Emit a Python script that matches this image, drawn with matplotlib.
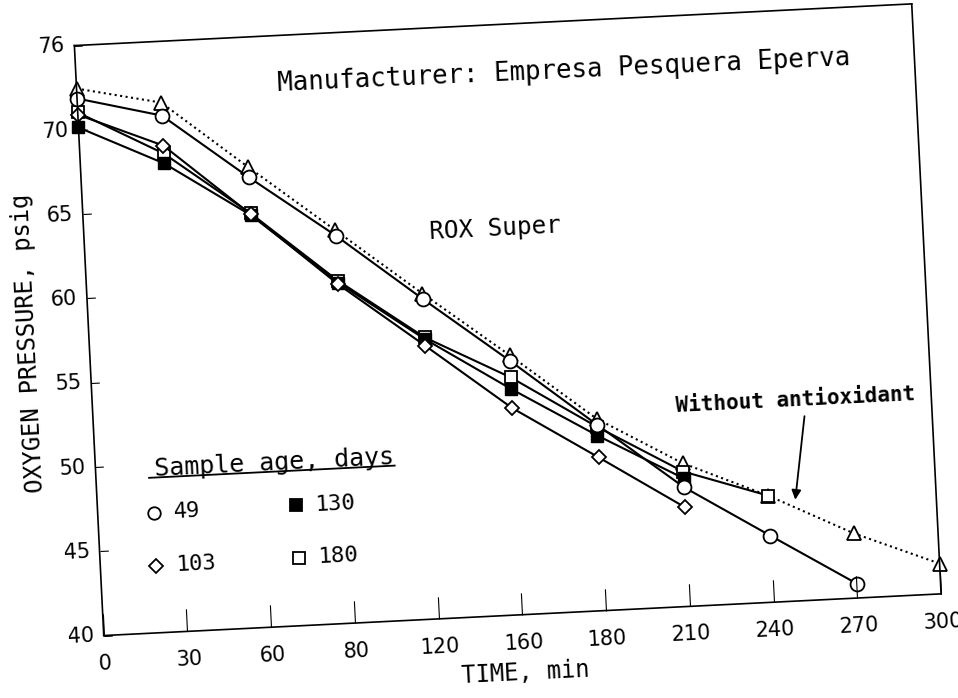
import matplotlib
matplotlib.use("Agg")
import matplotlib.pyplot as plt
from matplotlib.transforms import Affine2D
import mpl_toolkits.axisartist.floating_axes as floating_axes
from mpl_toolkits.axisartist.grid_finder import FixedLocator, DictFormatter

# data (time in min, oxygen pressure in psig)
time = [0, 30, 60, 90, 120, 150, 180, 210, 240, 270, 300]
p_none = [72.45, 71.37, 67.29, 63.3, 59.3, 55.4, 51.38, 48.49, 46.32, 43.83, 41.80]
p_49 = [71.86, 70.60, 66.69, 62.99, 58.98, 55.07, 51.03, 47.07, 43.95, 40.86]
p_103 = [70.9, 68.82, 64.5, 60.1, 56.21, 52.26, 49.09, 45.88]
p_130 = [70.14, 67.76, 64.45, 60.2, 56.6, 53.39, 50.38, 47.6]
p_180 = [71.03, 68.35, 64.55, 60.31, 56.70, 54.08, 50.9, 48.0, 46.32]

x_ticks = [0, 30, 60, 90, 120, 150, 180, 210, 240, 270, 300]
x_tick_labels = ['0', '30', '60', '80', '120', '160', '180', '210', '240', '270', '300']
y_ticks = [40, 45, 50, 55, 60, 65, 70, 75]
y_tick_labels = ['40', '45', '50', '55', '60', '65', '70', '76']

legend_labels = ['49', '103', '130', '180']

# the scanned page is tilted a little
TILT = 2.85
PX_PER_MIN = 2.795
PX_PER_PSI = 16.88
MONO = 'DejaVu Sans Mono'

fig = plt.figure(figsize=(9.58, 6.98), dpi=100)

tr = Affine2D().scale(1, PX_PER_PSI / PX_PER_MIN).rotate_deg(TILT)
grid_helper = floating_axes.GridHelperCurveLinear(
    tr, extremes=(0, 300, 40, 75),
    grid_locator1=FixedLocator(x_ticks),
    tick_formatter1=DictFormatter(dict(zip(x_ticks, x_tick_labels))),
    grid_locator2=FixedLocator(y_ticks),
    tick_formatter2=DictFormatter(dict(zip(y_ticks, y_tick_labels))))
ax = fig.add_axes([0.0686, 0.0802, 0.9228, 0.9235],
                  axes_class=floating_axes.FloatingAxes, grid_helper=grid_helper)
aux = ax.get_aux_axes(tr)

for side in ['top', 'right', 'bottom', 'left']:
    ax.axis[side].line.set_linewidth(1.2)
for side in ['top', 'right']:
    ax.axis[side].major_ticks.set_visible(False)
    ax.axis[side].major_ticklabels.set_visible(False)

ax.axis['bottom'].major_ticks.set_ticksize(16)
ax.axis['bottom'].major_ticks.set_linewidth(1.2)
ax.axis['left'].major_ticks.set_ticksize(6)
ax.axis['left'].major_ticks.set_linewidth(1.2)
ax.axis['bottom'].major_ticklabels.set_fontsize(15)
ax.axis['left'].major_ticklabels.set_fontsize(15)
ax.axis['bottom'].major_ticklabels.set_pad(13)
ax.axis['left'].major_ticklabels.set_pad(7)

ax.axis['bottom'].label.set_text('TIME, min')
ax.axis['bottom'].label.set_fontsize(17)
ax.axis['bottom'].label.set_fontfamily(MONO)
ax.axis['bottom'].label.set_pad(9)
ax.axis['left'].label.set_text('OXYGEN PRESSURE, psig')
ax.axis['left'].label.set_fontsize(17)
ax.axis['left'].label.set_fontfamily(MONO)
ax.axis['left'].label.set_pad(9)

# series
aux.plot(time, p_none, ':', color='k', lw=1.5, marker='^', ms=10,
         mfc='white', mec='k', mew=1.3)
aux.plot(time[:len(p_180)], p_180, '-', color='k', lw=1.5, marker='s', ms=9,
         mfc='white', mec='k', mew=1.3)
aux.plot(time[:len(p_130)], p_130, '-', color='k', lw=1.5, marker='s', ms=8,
         mfc='k', mec='k')
aux.plot(time[:len(p_103)], p_103, '-', color='k', lw=1.5, marker='D', ms=7,
         mfc='white', mec='k', mew=1.3)
aux.plot(time[:len(p_49)], p_49, '-', color='k', lw=1.5, marker='o', ms=10,
         mfc='white', mec='k', mew=1.3)

# annotations
aux.text(174.6, 72.08, 'Manufacturer: Empresa Pesquera Eperva', fontsize=18.5,
         family=MONO, rotation=2.6, rotation_mode='anchor', ha='center', va='center')
aux.text(147, 62.93, 'ROX Super', fontsize=17.5, family=MONO, rotation=TILT,
         rotation_mode='anchor', ha='center', va='center')
aux.text(251.5, 51.87, 'Without antioxidant', fontsize=15, family=MONO,
         weight='bold', rotation=TILT, rotation_mode='anchor', ha='center', va='center')
aux.annotate('', xy=(249.4, 45.84), xytext=(254.5, 51.08),
             arrowprops=dict(arrowstyle='-|>', color='k', lw=1.3, mutation_scale=14))

# hand-drawn legend
aux.text(64, 49.73, 'Sample age, days', fontsize=18, family=MONO, rotation=TILT,
         rotation_mode='anchor', ha='center', va='center')
aux.plot([19, 107], [49.2, 49.2], '-', color='k', lw=1.3)

legend_x = [20, 20, 71, 71]
legend_y = [47.13, 43.99, 47.13, 43.99]
legend_marker = ['o', 'D', 's', 's']
legend_face = ['white', 'white', 'k', 'white']
legend_size = [9, 7, 8, 8]
for lx, ly, m, fc, ms, lab in zip(legend_x, legend_y, legend_marker, legend_face,
                                  legend_size, legend_labels):
    aux.plot([lx], [ly], marker=m, ms=ms, mfc=fc, mec='k', mew=1.3, ls='none')
    aux.text(lx + 7, ly, lab, fontsize=16, family=MONO, rotation=TILT,
             rotation_mode='anchor', ha='left', va='center')

fig.savefig('out.png', dpi=100, facecolor='white')
